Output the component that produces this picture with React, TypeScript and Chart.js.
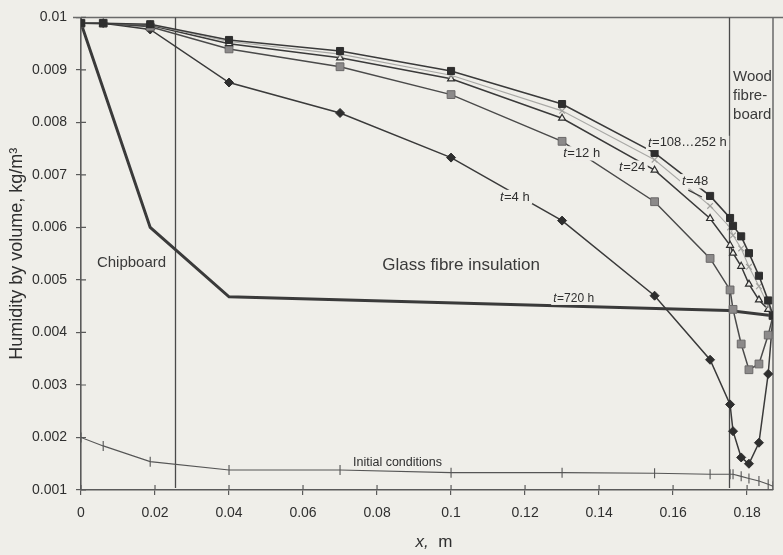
import { useEffect, useRef } from "react";
import { Chart, registerables } from "chart.js";

Chart.register(...registerables);

// Positions across the wall (m): chipboard, glass fibre insulation, wood fibreboard
const positions = [0, 0.006, 0.0187, 0.04, 0.07, 0.1, 0.13, 0.155, 0.17, 0.1754, 0.1762, 0.1784, 0.1805, 0.1832, 0.1857, 0.187];

// Humidity by volume (kg/m³) at each position for the different times
const humidity108to252 = [0.00989, 0.00989, 0.00987, 0.00957, 0.00936, 0.00898, 0.00835, 0.00742, 0.0066, 0.00618, 0.00603, 0.00583, 0.00551, 0.00508, 0.00461, 0.00432];
const humidity48 = [0.00989, 0.00989, 0.00986, 0.00954, 0.0093, 0.0089, 0.00822, 0.00729, 0.00641, 0.006, 0.00585, 0.0056, 0.00525, 0.00488, 0.00452, 0.00432];
const humidity24 = [0.00989, 0.00988, 0.00985, 0.0095, 0.00923, 0.00883, 0.00808, 0.00709, 0.00617, 0.00566, 0.00551, 0.00526, 0.00492, 0.00462, 0.00444, 0.00432];
const humidity12 = [0.00989, 0.00989, 0.00982, 0.0094, 0.00906, 0.00853, 0.00764, 0.00649, 0.00541, 0.00481, 0.00444, 0.00378, 0.00329, 0.0034, 0.00395, 0.00432];
const humidity4 = [0.00989, 0.00989, 0.00977, 0.00876, 0.00818, 0.00733, 0.00613, 0.0047, 0.00348, 0.00263, 0.00212, 0.00162, 0.0015, 0.0019, 0.00321, 0.00432];
const initialHumidity = [0.002, 0.00184, 0.00154, 0.00138, 0.00138, 0.00133, 0.00133, 0.00132, 0.0013, 0.0013, 0.0013, 0.00126, 0.00122, 0.00117, 0.00111, 0.00107];

const positions720 = [0, 0.0187, 0.04, 0.175, 0.187];
const humidity720 = [0.00989, 0.006, 0.00468, 0.00442, 0.00432];

// Layer interfaces (m)
const layerBounds = [0.0254, 0.175];

// Axis ranges and tick steps
const xRange = [0, 0.187];
const yRange = [0.001, 0.01];
const xStep = 0.02;
const yStep = 0.001;

const FONT = "'Liberation Sans', Arial, Helvetica, sans-serif";
const BG = "#efeee9";
const INK = "#2f2f2f";
const LINE = "#3a3a3a";
const AXIS = "#5a5a5a";

// Curve captions, anchored in data units (left edge, vertical centre)
const timeLabels = [
  { time: "108…252 h", x: 0.1532, y: 0.00761, size: 13 },
  { time: "12 h", x: 0.1303, y: 0.00741, size: 13 },
  { time: "24", x: 0.1454, y: 0.00714, size: 13 },
  { time: "48", x: 0.1624, y: 0.00688, size: 13 },
  { time: "4 h", x: 0.1132, y: 0.00658, size: 13 },
  { time: "720 h", x: 0.1276, y: 0.00465, size: 12 },
];

const layerLabels = [
  { lines: ["Chipboard"], x: 0.0043, y: 0.00532, size: 15 },
  { lines: ["Glass fibre insulation"], x: 0.0814, y: 0.00528, size: 17 },
  { lines: ["Wood", "fibre-", "board"], x: 0.1762, y: 0.00887, size: 15 },
];

const toPoints = (xs: number[], ys: number[]) => xs.map((x, i) => ({ x, y: ys[i] }));

const decorPlugin = {
  id: "decor",
  beforeDraw(chart: any) {
    const { ctx, width, height } = chart;
    ctx.save();
    ctx.fillStyle = BG;
    ctx.fillRect(0, 0, width, height);
    ctx.restore();
  },
  beforeDatasetsDraw(chart: any) {
    const { ctx, chartArea, scales } = chart;
    const xs = scales.x;
    const ys = scales.y;
    ctx.save();
    // frame: top and right edges
    ctx.strokeStyle = "#6a6a6a";
    ctx.lineWidth = 1.5;
    ctx.beginPath();
    ctx.moveTo(chartArea.left - 8, chartArea.top);
    ctx.lineTo(chartArea.right + 10, chartArea.top);
    ctx.moveTo(chartArea.right, chartArea.top);
    ctx.lineTo(chartArea.right, chartArea.bottom);
    ctx.stroke();
    // layer interfaces
    ctx.strokeStyle = "#4a4a4a";
    ctx.lineWidth = 1.3;
    ctx.beginPath();
    for (const b of layerBounds) {
      const px = Math.round(xs.getPixelForValue(b)) + 0.5;
      ctx.moveTo(px, ys.getPixelForValue(yRange[1]));
      ctx.lineTo(px, ys.getPixelForValue(yRange[0]) - 2);
    }
    ctx.stroke();
    // inner halves of the tick marks
    ctx.strokeStyle = AXIS;
    ctx.lineWidth = 1.2;
    ctx.beginPath();
    for (const t of xs.ticks) {
      const px = xs.getPixelForValue(t.value);
      ctx.moveTo(px, chartArea.bottom);
      ctx.lineTo(px, chartArea.bottom - 5);
    }
    for (const t of ys.ticks) {
      const py = ys.getPixelForValue(t.value);
      ctx.moveTo(chartArea.left, py);
      ctx.lineTo(chartArea.left + 5, py);
    }
    ctx.stroke();
    ctx.restore();
  },
  afterDatasetsDraw(chart: any) {
    const { ctx, scales, chartArea } = chart;
    const xs = scales.x;
    const ys = scales.y;
    ctx.save();
    ctx.textBaseline = "middle";
    ctx.textAlign = "left";

    // leader from the t=48 caption to its curve
    ctx.strokeStyle = LINE;
    ctx.lineWidth = 1.2;
    ctx.beginPath();
    ctx.moveTo(xs.getPixelForValue(0.1641), ys.getPixelForValue(0.00671));
    ctx.lineTo(xs.getPixelForValue(0.1678), ys.getPixelForValue(0.00658));
    ctx.stroke();

    for (const l of timeLabels) {
      const px = xs.getPixelForValue(l.x);
      const py = ys.getPixelForValue(l.y);
      ctx.font = `italic ${l.size}px ${FONT}`;
      const wt = ctx.measureText("t").width;
      ctx.font = `${l.size}px ${FONT}`;
      const rest = "=" + l.time;
      const wr = ctx.measureText(rest).width;
      ctx.fillStyle = BG;
      ctx.fillRect(px - 2, py - l.size * 0.55, wt + wr + 5, l.size * 1.1);
      ctx.fillStyle = INK;
      ctx.font = `italic ${l.size}px ${FONT}`;
      ctx.fillText("t", px, py);
      ctx.font = `${l.size}px ${FONT}`;
      ctx.fillText(rest, px + wt + 0.5, py);
    }

    // initial conditions caption
    {
      const px = xs.getPixelForValue(0.0735);
      const py = ys.getPixelForValue(0.00153);
      ctx.font = `12.5px ${FONT}`;
      ctx.fillStyle = INK;
      ctx.fillText("Initial conditions", px, py);
    }

    for (const l of layerLabels) {
      const px = xs.getPixelForValue(l.x);
      let py = ys.getPixelForValue(l.y);
      ctx.font = `${l.size}px ${FONT}`;
      ctx.fillStyle = "#3a3a3a";
      for (const line of l.lines) {
        ctx.fillText(line, px, py);
        py += 19;
      }
    }

    // x-axis title: "x, m"
    {
      const cx = (chartArea.left + chartArea.right) / 2 + 7;
      const py = 542;
      ctx.font = `italic 17px ${FONT}`;
      const w1 = ctx.measureText("x,").width;
      ctx.font = `17px ${FONT}`;
      const w2 = ctx.measureText("  m").width;
      const start = cx - (w1 + w2) / 2;
      ctx.fillStyle = INK;
      ctx.font = `italic 17px ${FONT}`;
      ctx.fillText("x,", start, py);
      ctx.font = `17px ${FONT}`;
      ctx.fillText("  m", start + w1, py);
    }
    ctx.restore();
  },
};

export default function App() {
  const canvasRef = useRef<HTMLCanvasElement | null>(null);

  useEffect(() => {
    const canvas = canvasRef.current;
    if (!canvas) return;

    const chart = new Chart(canvas, {
      type: "line",
      data: {
        datasets: [
          {
            label: "t=108…252 h",
            data: toPoints(positions, humidity108to252),
            borderColor: LINE,
            borderWidth: 1.6,
            pointStyle: "rect",
            pointRadius: 5,
            pointBackgroundColor: "#2e2e2e",
            pointBorderColor: "#2e2e2e",
            pointBorderWidth: 1,
          },
          {
            label: "t=48 h",
            data: toPoints(positions, humidity48),
            borderColor: "#a9a9a6",
            borderWidth: 1.1,
            pointStyle: "crossRot",
            pointRadius: 4,
            pointBorderColor: "#a0a09d",
            pointBorderWidth: 1.2,
          },
          {
            label: "t=24 h",
            data: toPoints(positions, humidity24),
            borderColor: LINE,
            borderWidth: 1.5,
            pointStyle: "triangle",
            pointRadius: 4,
            pointBackgroundColor: BG,
            pointBorderColor: "#2e2e2e",
            pointBorderWidth: 1.2,
          },
          {
            label: "t=12 h",
            data: toPoints(positions, humidity12),
            borderColor: "#4a4a4a",
            borderWidth: 1.5,
            pointStyle: "rect",
            pointRadius: 5.5,
            pointBackgroundColor: "#8c8a8a",
            pointBorderColor: "#6a6868",
            pointBorderWidth: 1,
          },
          {
            label: "t=4 h",
            data: toPoints(positions, humidity4),
            borderColor: LINE,
            borderWidth: 1.5,
            pointStyle: "rectRot",
            pointRadius: 4.5,
            pointBackgroundColor: "#2e2e2e",
            pointBorderColor: "#2e2e2e",
            pointBorderWidth: 1,
          },
          {
            label: "t=720 h",
            data: toPoints(positions720, humidity720),
            borderColor: "#3a3a3a",
            borderWidth: 3,
            pointRadius: 0,
          },
          {
            label: "Initial conditions",
            data: toPoints(positions, initialHumidity),
            borderColor: "#555",
            borderWidth: 1.1,
            pointStyle: "line",
            pointRotation: 90,
            pointRadius: 5,
            pointBorderColor: "#555",
            pointBorderWidth: 1.1,
          },
        ],
      },
      options: {
        responsive: false,
        animation: false,
        events: [],
        parsing: false,
        elements: { line: { tension: 0, fill: false } },
        layout: { padding: { top: 11, right: 10, left: 0, bottom: 0 } },
        plugins: {
          legend: { display: false },
          tooltip: { enabled: false },
          title: { display: false },
        },
        scales: {
          x: {
            type: "linear",
            min: xRange[0],
            max: xRange[1],
            afterFit: (s: any) => {
              s.height = 65;
            },
            border: { display: true, color: AXIS, width: 1.6 },
            grid: { drawOnChartArea: false, drawTicks: true, tickLength: 5, color: AXIS, lineWidth: 1.2 },
            ticks: {
              stepSize: xStep,
              includeBounds: false,
              autoSkip: false,
              maxRotation: 0,
              padding: 10,
              color: INK,
              font: { family: FONT, size: 14 },
              callback: (v: any) => String(parseFloat(Number(v).toFixed(2))),
            },
          },
          y: {
            type: "linear",
            min: yRange[0],
            max: yRange[1],
            afterFit: (s: any) => {
              s.width = 81;
            },
            border: { display: true, color: AXIS, width: 1.6 },
            grid: { drawOnChartArea: false, drawTicks: true, tickLength: 5, color: AXIS, lineWidth: 1.2 },
            ticks: {
              stepSize: yStep,
              autoSkip: false,
              padding: 9,
              color: INK,
              font: { family: FONT, size: 14 },
              callback: (v: any) => String(parseFloat(Number(v).toFixed(3))),
            },
            title: {
              display: true,
              text: "Humidity by volume, kg/m³",
              color: INK,
              font: { family: FONT, size: 18 },
              padding: { top: 6, bottom: 0 },
            },
          },
        },
      },
      plugins: [decorPlugin],
    } as any);

    return () => chart.destroy();
  }, []);

  return (
    <div style={{ position: "fixed", left: 0, top: 0, width: 783, height: 555, background: BG }}>
      <canvas ref={canvasRef} width={783} height={555} style={{ display: "block" }} />
    </div>
  );
}
